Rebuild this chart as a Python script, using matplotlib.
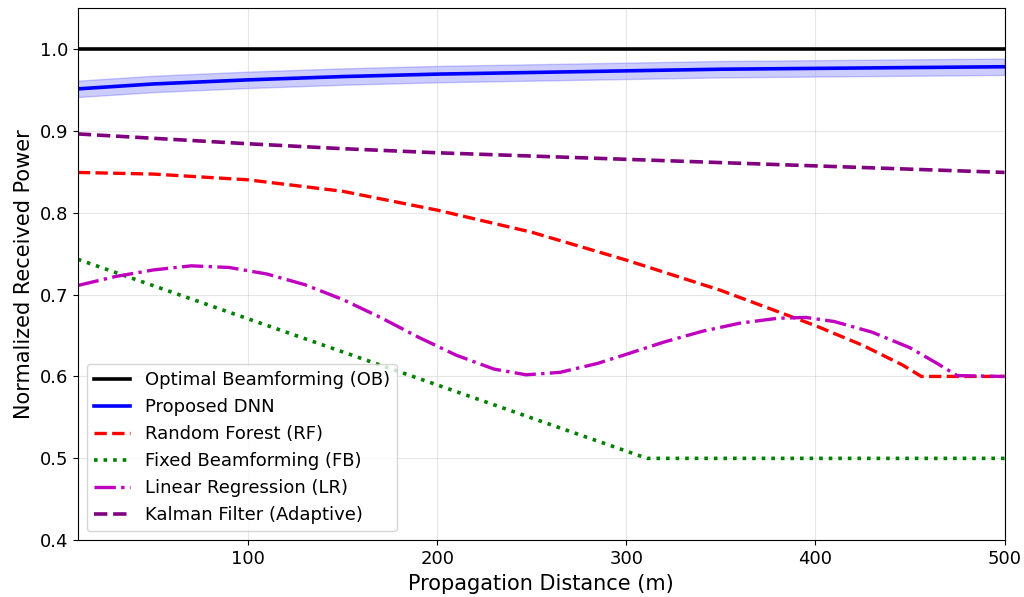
import numpy as np
from matplotlib import pyplot as plt

# propagation distance samples (m) and received power read per method
ob_x = [10, 500]
ob_y = [1.0, 1.0]

dnn_x = [10, 50, 100, 150, 200, 250, 300, 350, 400, 450, 500]
dnn_y = [0.951, 0.957, 0.962, 0.966, 0.969, 0.971, 0.973, 0.975, 0.976, 0.977, 0.978]
dnn_spread = 0.01

rf_x = [10, 50, 100, 150, 200, 250, 300, 350, 400, 425, 446, 456, 500]
rf_y = [0.849, 0.847, 0.840, 0.826, 0.803, 0.776, 0.742, 0.705, 0.662, 0.638, 0.614,
        0.600, 0.600]

fb_x = [10, 311, 500]
fb_y = [0.743, 0.500, 0.500]

lr_x = [10, 30, 50, 70, 90, 110, 130, 150, 170, 190, 210, 230, 247, 265, 285, 300,
        320, 340, 360, 380, 395, 410, 430, 450, 465, 475, 500]
lr_y = [0.711, 0.722, 0.730, 0.735, 0.733, 0.725, 0.712, 0.694, 0.672, 0.648, 0.626,
        0.609, 0.602, 0.605, 0.616, 0.627, 0.642, 0.655, 0.665, 0.671, 0.672, 0.667,
        0.654, 0.635, 0.615, 0.601, 0.600]

kf_x = [10, 100, 150, 200, 300, 400, 500]
kf_y = [0.896, 0.884, 0.878, 0.873, 0.865, 0.857, 0.849]

figure = plt.figure(figsize=(10.24, 5.97), dpi=100)
axes = figure.add_axes([0.076, 0.095, 0.905, 0.892])

axes.plot(ob_x, ob_y, color="black", lw=2.6, label="Optimal Beamforming (OB)")
axes.plot(dnn_x, dnn_y, color="blue", lw=2.6, label="Proposed DNN")
axes.fill_between(dnn_x, np.array(dnn_y) - dnn_spread, np.array(dnn_y) + dnn_spread,
                  color="blue", alpha=0.2)
axes.plot(rf_x, rf_y, color="red", lw=2.4, ls="--", label="Random Forest (RF)")
axes.plot(fb_x, fb_y, color="green", lw=2.6, ls=":", label="Fixed Beamforming (FB)")
axes.plot(lr_x, lr_y, color="m", lw=2.4, ls="-.", label="Linear Regression (LR)")
axes.plot(kf_x, kf_y, color="purple", lw=2.6, ls="--", label="Kalman Filter (Adaptive)")

axes.set_xlim(10, 500)
axes.set_ylim(0.4, 1.05)
axes.set_xticks([100, 200, 300, 400, 500])
axes.set_yticks([0.4, 0.5, 0.6, 0.7, 0.8, 0.9, 1.0])
axes.tick_params(labelsize=13)
axes.grid(alpha=0.3)

axes.set_xlabel("Propagation Distance (m)", fontsize=15)
axes.set_ylabel("Normalized Received Power", fontsize=15)
axes.legend(loc="lower left", fontsize=13)

figure.savefig("out.png", dpi=100)
